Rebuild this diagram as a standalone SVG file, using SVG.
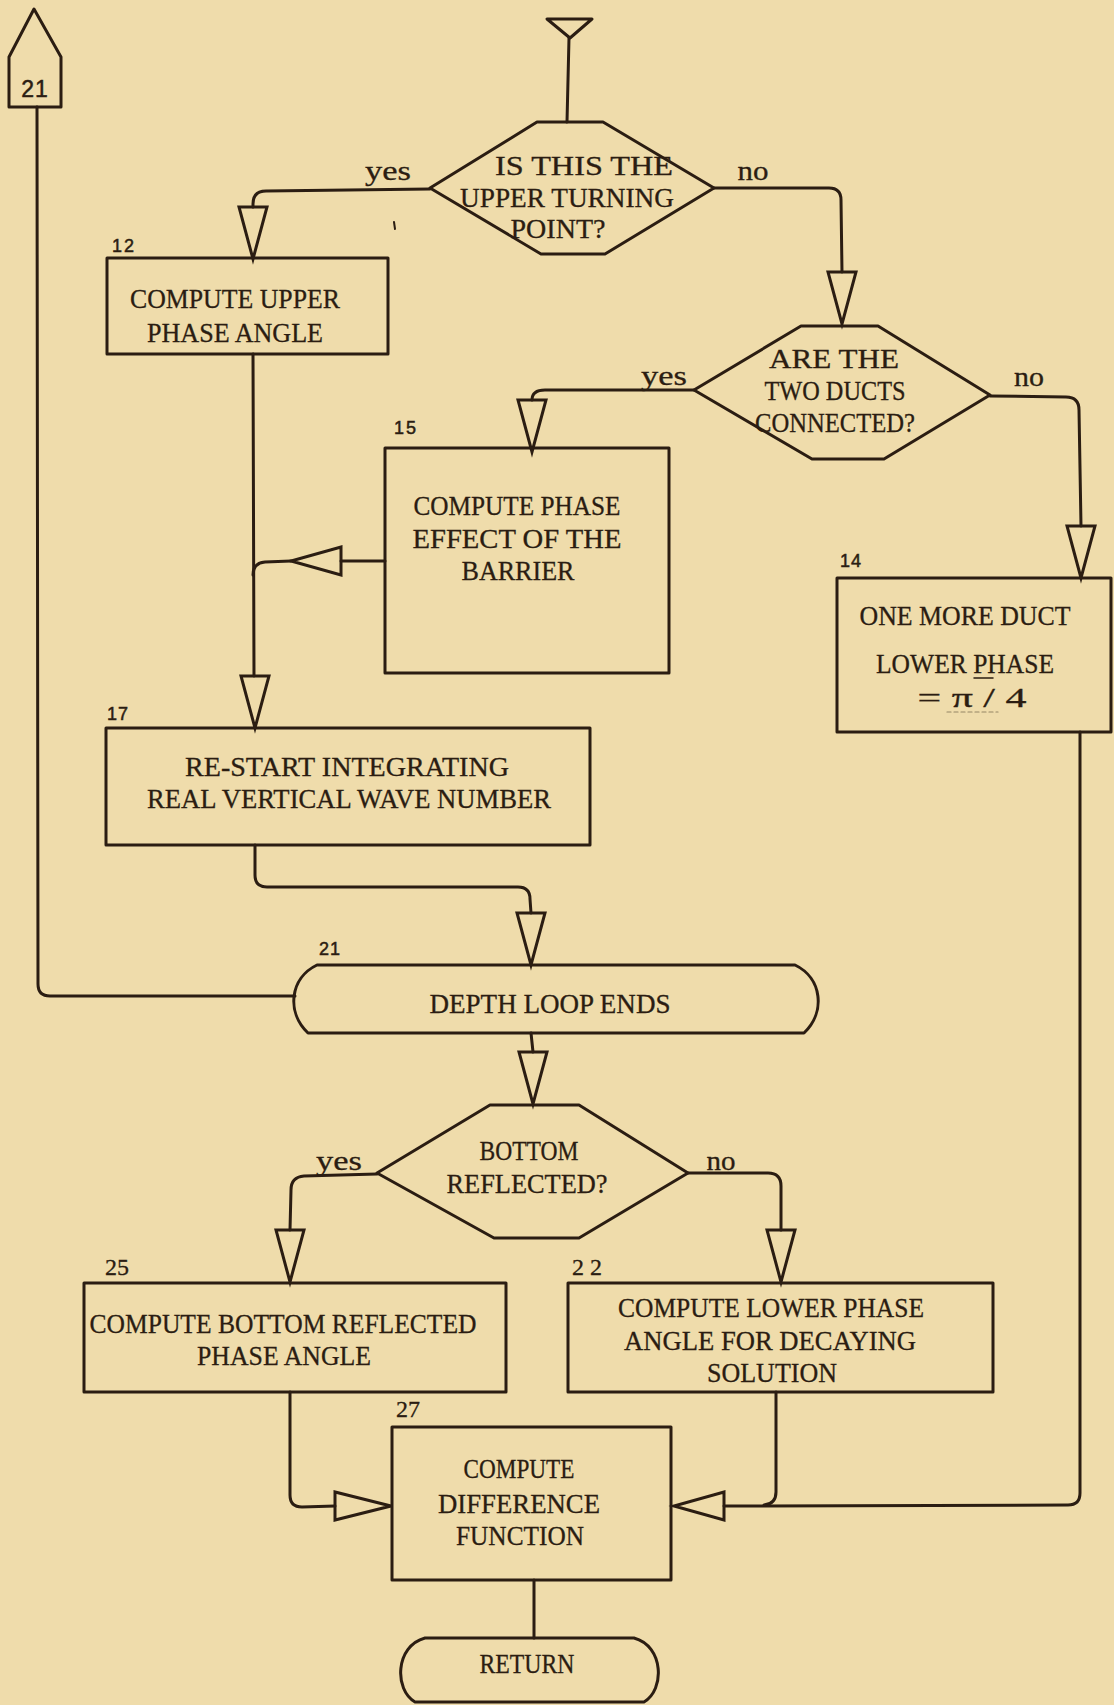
<svg xmlns="http://www.w3.org/2000/svg" xmlns:xlink="http://www.w3.org/1999/xlink" width="1114" height="1705" viewBox="0 0 1114 1705">
  <style>
    .ln { fill: none; stroke: #2b1d12; stroke-width: 3; stroke-linejoin: round; stroke-linecap: round; }
    .fine { fill: none; stroke: #2b1d12; stroke-linecap: round; }
    .shape { fill: none; stroke: #2b1d12; stroke-width: 3; stroke-linejoin: round; }
    .arw { fill: none; stroke: #2b1d12; stroke-width: 3; stroke-linejoin: miter; }
    .t { font-family: "Liberation Serif", "Times New Roman", serif; font-size: 27px; fill: #2b1d12; stroke: #2b1d12; stroke-width: 0.3; text-anchor: middle; }
    .lbl { font-family: "Liberation Serif", "Times New Roman", serif; font-size: 28px; fill: #2b1d12; stroke: #2b1d12; stroke-width: 0.3; text-anchor: middle; }
    .n { font-family: "Liberation Sans", Arial, sans-serif; font-size: 18px; fill: #2b1d12; stroke: #2b1d12; stroke-width: 0.5; }
    .nbig { font-family: "Liberation Sans", Arial, sans-serif; font-size: 23px; fill: #2b1d12; stroke: #2b1d12; stroke-width: 0.5; text-anchor: middle; }
    .nt { font-family: "Liberation Serif", "Times New Roman", serif; font-size: 24px; fill: #2b1d12; stroke: #2b1d12; stroke-width: 0.3; }
  </style>
  <defs>
    <!-- open triangular arrowheads; origin at the middle of the base -->
    <path id="a-down" d="M-14,0 L14,0 L0,52 Z"/>
    <path id="a-left" d="M0,-14 L0,14 L-50,0 Z"/>
    <path id="a-right" d="M0,-14 L0,14 L56,0 Z"/>
  </defs>

  <rect x="0" y="0" width="1114" height="1705" fill="#efdcab"/>

  <!-- flow lines and arrowheads -->
  <g id="connectors">
    <!-- entry -->
    <path class="ln" d="M569,38 L567,122"/>
    <!-- decision 1: yes -> 12 -->
    <path class="ln" d="M430,189 L266,191 Q253,191 253,204 L253,207"/>
    <use href="#a-down" class="arw" transform="translate(253,207)"/>
    <!-- decision 1: no -> decision 2 -->
    <path class="ln" d="M714,188 L829,188 Q841,188 841,200 L842,272"/>
    <use href="#a-down" class="arw" transform="translate(842,272)"/>
    <!-- decision 2: yes -> 15 -->
    <path class="ln" d="M694,390 L545,390 Q532,390 532,400"/>
    <use href="#a-down" class="arw" transform="translate(532,400)"/>
    <!-- decision 2: no -> 14 -->
    <path class="ln" d="M990,396 L1066,397 Q1079,397 1079,410 L1081,526"/>
    <use href="#a-down" class="arw" transform="translate(1081,526)"/>
    <!-- 12 -> 17, with 15 joining from the right -->
    <path class="ln" d="M253,354 L254,676"/>
    <path class="ln" d="M385,561 L341,561"/>
    <use href="#a-left" class="arw" transform="translate(341,561)"/>
    <path class="ln" d="M291,561 L265,562 Q253,563 253,575"/>
    <use href="#a-down" class="arw" transform="translate(255,676)"/>
    <!-- 17 -> 21 -->
    <path class="ln" d="M255,845 L255,875 Q255,887 267,887 L518,887 Q530,887 530,899 L531,913"/>
    <use href="#a-down" class="arw" transform="translate(531,913)"/>
    <!-- 21 loop back to the off-page connector -->
    <path class="ln" d="M295,996 L50,996 Q38,996 38,984 L37,107"/>
    <!-- 21 -> decision 3 -->
    <path class="ln" d="M531,1033 L533,1052"/>
    <use href="#a-down" class="arw" transform="translate(533,1052)"/>
    <!-- decision 3: yes -> 25 -->
    <path class="ln" d="M377,1174 L304,1176 Q291,1177 291,1190 L290,1230"/>
    <use href="#a-down" class="arw" transform="translate(290,1230)"/>
    <!-- decision 3: no -> 22 -->
    <path class="ln" d="M688,1173 L768,1173 Q781,1173 781,1186 L781,1230"/>
    <use href="#a-down" class="arw" transform="translate(781,1230)"/>
    <!-- 25 -> 27 -->
    <path class="ln" d="M290,1392 L290,1495 Q290,1507 302,1507 L335,1506"/>
    <use href="#a-right" class="arw" transform="translate(335,1506)"/>
    <!-- 14 and 22 -> 27 -->
    <path class="ln" d="M1080,732 L1080,1493 Q1080,1505 1068,1505 L724,1506"/>
    <path class="ln" d="M776,1392 L776,1492 Q776,1504 764,1505"/>
    <use href="#a-left" class="arw" transform="translate(724,1506)"/>
    <!-- 27 -> return -->
    <path class="ln" d="M534,1580 L534,1638"/>
    <!-- small pen mark -->
    <path class="fine" style="stroke-width:2" d="M394,222 L395,229"/>
  </g>

  <!-- off-page connector 21 -->
  <g id="node-offpage-21">
    <polygon class="shape" points="34,9 61,57 61,107 9,107 9,57"/>
    <text class="nbig" x="35" y="97" letter-spacing="1">21</text>
  </g>

  <!-- entry mark -->
  <g id="node-start">
    <polygon class="shape" points="547,19 592,19 570,38"/>
  </g>

  <g id="node-decision-upper">
    <polygon class="shape" points="537,122 603,122 714,188 605,254 541,254 430,188"/>
    <text class="t" x="584" y="175" textLength="178" lengthAdjust="spacingAndGlyphs">IS THIS THE</text>
    <text class="t" x="567" y="207" textLength="214" lengthAdjust="spacingAndGlyphs">UPPER TURNING</text>
    <text class="t" x="558" y="238" textLength="95" lengthAdjust="spacingAndGlyphs">POINT?</text>
    <text class="lbl" x="388" y="180" textLength="46" lengthAdjust="spacingAndGlyphs">yes</text>
    <text class="lbl" x="753" y="180" textLength="31" lengthAdjust="spacingAndGlyphs">no</text>
  </g>

  <g id="node-12">
    <rect class="shape" x="107" y="258" width="281" height="96"/>
    <text class="n" x="112" y="252" letter-spacing="2">12</text>
    <text class="t" x="235" y="308" textLength="210" lengthAdjust="spacingAndGlyphs">COMPUTE UPPER</text>
    <text class="t" x="235" y="342" textLength="176" lengthAdjust="spacingAndGlyphs">PHASE ANGLE</text>
  </g>

  <g id="node-decision-ducts">
    <polygon class="shape" points="801,326 878,326 990,395 884,459 812,459 694,390"/>
    <text class="t" x="834" y="368" textLength="130" lengthAdjust="spacingAndGlyphs">ARE  THE</text>
    <text class="t" x="835" y="400" textLength="141" lengthAdjust="spacingAndGlyphs">TWO DUCTS</text>
    <text class="t" x="835" y="432" textLength="160" lengthAdjust="spacingAndGlyphs">CONNECTED?</text>
    <text class="lbl" x="664" y="385" textLength="46" lengthAdjust="spacingAndGlyphs">yes</text>
    <text class="lbl" x="1029" y="386" textLength="30" lengthAdjust="spacingAndGlyphs">no</text>
  </g>

  <g id="node-15">
    <rect class="shape" x="385" y="448" width="284" height="225"/>
    <text class="n" x="394" y="434" letter-spacing="2">15</text>
    <text class="t" x="517" y="515" textLength="207" lengthAdjust="spacingAndGlyphs">COMPUTE PHASE</text>
    <text class="t" x="517" y="548" textLength="209" lengthAdjust="spacingAndGlyphs">EFFECT OF THE</text>
    <text class="t" x="518" y="580" textLength="113" lengthAdjust="spacingAndGlyphs">BARRIER</text>
  </g>

  <g id="node-14">
    <rect class="shape" x="837" y="578" width="274" height="154"/>
    <text class="n" x="840" y="567" letter-spacing="1">14</text>
    <text class="t" x="965" y="625" textLength="211" lengthAdjust="spacingAndGlyphs">ONE MORE DUCT</text>
    <text class="t" x="965" y="673" textLength="178" lengthAdjust="spacingAndGlyphs">LOWER PHASE</text>
    <path class="fine" style="stroke-width:1.5" d="M974,678 L993,678"/>
    <text class="t" x="972" y="707" textLength="109" lengthAdjust="spacingAndGlyphs">= π / 4</text>
    <path class="fine" style="stroke-width:1.2;opacity:0.45" stroke-dasharray="4 3" d="M947,712 L998,712"/>
  </g>

  <g id="node-17">
    <rect class="shape" x="106" y="728" width="484" height="117"/>
    <text class="n" x="107" y="720" letter-spacing="1">17</text>
    <text class="t" x="347" y="776" textLength="324" lengthAdjust="spacingAndGlyphs">RE-START INTEGRATING</text>
    <text class="t" x="349" y="808" textLength="404" lengthAdjust="spacingAndGlyphs">REAL VERTICAL WAVE NUMBER</text>
  </g>

  <g id="node-21">
    <path class="shape" d="M317,965 L795,965 C822,978 826,1012 804,1033 L308,1033 C286,1012 290,978 317,965 Z"/>
    <text class="n" x="319" y="955" letter-spacing="1">21</text>
    <text class="t" x="550" y="1013" textLength="241" lengthAdjust="spacingAndGlyphs">DEPTH LOOP ENDS</text>
  </g>

  <g id="node-decision-bottom">
    <polygon class="shape" points="490,1105 579,1105 688,1173 579,1238 494,1238 377,1173"/>
    <text class="t" x="529" y="1160" textLength="99" lengthAdjust="spacingAndGlyphs">BOTTOM</text>
    <text class="t" x="527" y="1193" textLength="161" lengthAdjust="spacingAndGlyphs">REFLECTED?</text>
    <text class="lbl" x="339" y="1170" textLength="46" lengthAdjust="spacingAndGlyphs">yes</text>
    <text class="lbl" x="721" y="1170" textLength="29" lengthAdjust="spacingAndGlyphs">no</text>
  </g>

  <g id="node-25">
    <rect class="shape" x="84" y="1283" width="422" height="109"/>
    <text class="nt" x="105" y="1275">25</text>
    <text class="t" x="283" y="1333" textLength="387" lengthAdjust="spacingAndGlyphs">COMPUTE BOTTOM REFLECTED</text>
    <text class="t" x="284" y="1365" textLength="174" lengthAdjust="spacingAndGlyphs">PHASE ANGLE</text>
  </g>

  <g id="node-22">
    <rect class="shape" x="568" y="1283" width="425" height="109"/>
    <text class="nt" x="572" y="1275" letter-spacing="6">22</text>
    <text class="t" x="771" y="1317" textLength="306" lengthAdjust="spacingAndGlyphs">COMPUTE LOWER PHASE</text>
    <text class="t" x="770" y="1350" textLength="292" lengthAdjust="spacingAndGlyphs">ANGLE FOR DECAYING</text>
    <text class="t" x="772" y="1382" textLength="130" lengthAdjust="spacingAndGlyphs">SOLUTION</text>
  </g>

  <g id="node-27">
    <rect class="shape" x="392" y="1427" width="279" height="153"/>
    <text class="nt" x="396" y="1417">27</text>
    <text class="t" x="519" y="1478" textLength="111" lengthAdjust="spacingAndGlyphs">COMPUTE</text>
    <text class="t" x="519" y="1513" textLength="162" lengthAdjust="spacingAndGlyphs">DIFFERENCE</text>
    <text class="t" x="520" y="1545" textLength="128" lengthAdjust="spacingAndGlyphs">FUNCTION</text>
  </g>

  <g id="node-return">
    <path class="shape" d="M425,1638 L634,1638 C664,1646 665,1690 644,1702 L415,1702 C394,1690 395,1646 425,1638 Z"/>
    <text class="t" x="527" y="1673" textLength="95" lengthAdjust="spacingAndGlyphs">RETURN</text>
  </g>
</svg>
